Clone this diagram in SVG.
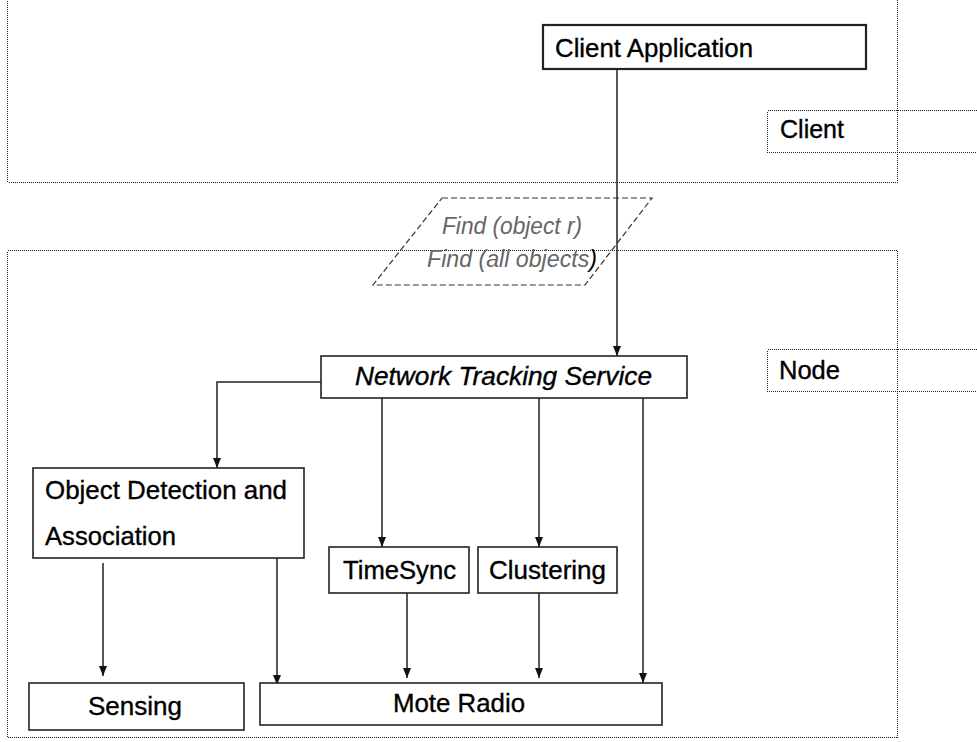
<svg xmlns="http://www.w3.org/2000/svg" width="977" height="742" viewBox="0 0 977 742">
  <defs>
    <marker id="arrow" viewBox="0 0 10 8" refX="10" refY="4" markerWidth="10" markerHeight="8" markerUnits="userSpaceOnUse" orient="auto">
      <path d="M0,0 L10,4 L0,8 z" fill="#111"/>
    </marker>
    <style>
      .zone { fill: none; stroke: #1a1a1a; stroke-width: 1; stroke-dasharray: 1 1; shape-rendering: crispEdges; }
      .box { fill: #fff; stroke: #222; stroke-width: 1.6; }
      .box-strong { fill: #fff; stroke: #222; stroke-width: 2.2; }
      .msg { fill: none; stroke: #333; stroke-width: 1.2; stroke-dasharray: 6 3; }
      .lbl { font-family: "Liberation Sans", Arial, sans-serif; font-size: 25px; fill: #000; stroke: #000; stroke-width: 0.35; }
      .ital { font-style: italic; }
      .note { font-family: "Liberation Sans", Arial, sans-serif; font-size: 23px; font-style: italic; fill: #666; }
      .edge { fill: none; stroke: #222; stroke-width: 1.5; marker-end: url(#arrow); }
    </style>
  </defs>

  <rect width="977" height="742" fill="#fff"/>

  <!-- deployment zones -->
  <g id="zone-client">
    <rect class="zone" x="7.5" y="-10" width="890" height="192"/>
    <rect class="zone" x="767.5" y="110.5" width="220" height="42"/>
    <text class="lbl" x="780" y="138" textLength="64" lengthAdjust="spacingAndGlyphs">Client</text>
  </g>
  <g id="zone-node">
    <rect class="zone" x="7.5" y="250.5" width="890" height="487"/>
    <rect class="zone" x="767.5" y="349.5" width="220" height="42"/>
    <text class="lbl" x="779" y="379" textLength="61" lengthAdjust="spacingAndGlyphs">Node</text>
  </g>

  <!-- request messages -->
  <g id="find-requests">
    <polygon class="msg" points="442,198 652,198 585,285 373,285"/>
    <text class="note" x="442" y="234" textLength="140" lengthAdjust="spacingAndGlyphs">Find (object r)</text>
    <text class="note" x="427" y="267" textLength="170" lengthAdjust="spacingAndGlyphs">Find (all objects<tspan fill="#000">)</tspan></text>
  </g>

  <!-- connectors -->
  <g id="connectors">
    <path class="edge" d="M617,69 V356"/>
    <path class="edge" d="M321,382 H217 V468"/>
    <path class="edge" d="M382,398 V547"/>
    <path class="edge" d="M539,398 V547"/>
    <path class="edge" d="M643,398 V683"/>
    <path class="edge" d="M103,563 V676"/>
    <path class="edge" d="M277,556 V685"/>
    <path class="edge" d="M407,590 V678"/>
    <path class="edge" d="M539,593 V678"/>
  </g>

  <!-- components -->
  <g id="client-application">
    <rect class="box-strong" x="543" y="25" width="323" height="44"/>
    <text class="lbl" x="555" y="57" textLength="198" lengthAdjust="spacingAndGlyphs">Client Application</text>
  </g>
  <g id="network-tracking-service">
    <rect class="box" x="321" y="356" width="366" height="42"/>
    <text class="lbl ital" x="355" y="385" textLength="297" lengthAdjust="spacingAndGlyphs">Network Tracking Service</text>
  </g>
  <g id="object-detection">
    <rect class="box" x="33" y="468" width="271" height="90"/>
    <text class="lbl" x="45" y="499" textLength="242" lengthAdjust="spacingAndGlyphs">Object Detection and</text>
    <text class="lbl" x="45" y="545" textLength="131" lengthAdjust="spacingAndGlyphs">Association</text>
  </g>
  <g id="timesync">
    <rect class="box" x="329" y="547" width="140" height="46"/>
    <text class="lbl" x="343" y="579" textLength="113" lengthAdjust="spacingAndGlyphs">TimeSync</text>
  </g>
  <g id="clustering">
    <rect class="box" x="478" y="547" width="139" height="46"/>
    <text class="lbl" x="489" y="579" textLength="117" lengthAdjust="spacingAndGlyphs">Clustering</text>
  </g>
  <g id="sensing">
    <rect class="box" x="29" y="683" width="215" height="47"/>
    <text class="lbl" x="88" y="715" textLength="94" lengthAdjust="spacingAndGlyphs">Sensing</text>
  </g>
  <g id="mote-radio">
    <rect class="box" x="260" y="683" width="402" height="42"/>
    <text class="lbl" x="393" y="712" textLength="132" lengthAdjust="spacingAndGlyphs">Mote Radio</text>
  </g>
</svg>
